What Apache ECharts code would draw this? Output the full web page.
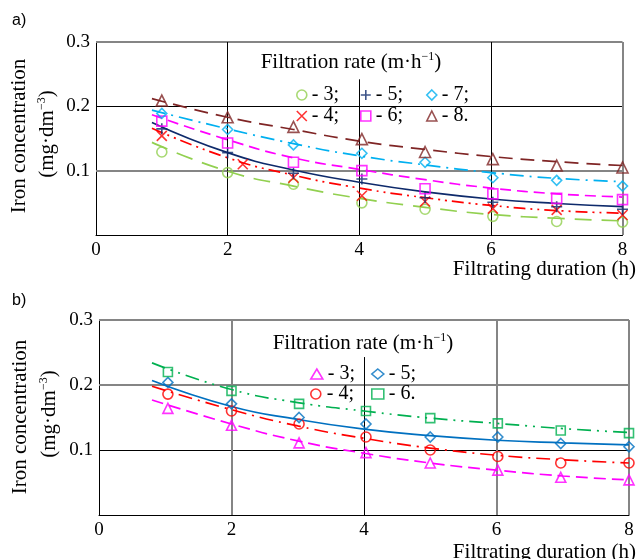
<!DOCTYPE html>
<html>
<head>
<meta charset="utf-8">
<script src="https://cdn.jsdelivr.net/npm/echarts@6/dist/echarts.min.js"></script>
<style>
html,body{margin:0;padding:0;background:#fff;}
#chart{width:637px;height:559px;}
</style>
</head>
<body>
<div id="chart"></div>
<script>
// ---------- DATA ----------
const X_TICKS = [0, 2, 4, 6, 8];
const Y_TICKS = [0.1, 0.2, 0.3];

// Chart a) measured points
const A_PT_X = [1, 2, 3, 4.04, 5, 6.03, 7, 8];
const A_PT_X_R4 = [1, 2.23, 3, 4.04, 5, 6.03, 7, 8];
const A3_PTS = [0.129, 0.097, 0.079, 0.050, 0.040, 0.029, 0.021, 0.020];
const A4_PTS = [0.154, 0.110, 0.089, 0.061, 0.052, 0.041, 0.039, 0.031];
const A5_PTS = [0.165, 0.128, 0.096, 0.087, 0.058, 0.051, 0.044, 0.040];
const A6_PTS = [0.177, 0.143, 0.113, 0.100, 0.072, 0.064, 0.057, 0.055];
const A7_PTS = [0.189, 0.164, 0.140, 0.127, 0.113, 0.089, 0.085, 0.076];
const A8_PTS = [0.209, 0.183, 0.168, 0.149, 0.129, 0.118, 0.108, 0.105];

// Chart a) fitted curves (read from picture)
const A_CURVE_X = [0.85, 2, 3, 4, 5, 6, 7, 8];
const A3_CURVE = [0.144, 0.099, 0.076, 0.057, 0.043, 0.032, 0.026, 0.022];
const A4_CURVE = [0.166, 0.120, 0.093, 0.073, 0.058, 0.046, 0.038, 0.034];
const A5_CURVE = [0.175, 0.128, 0.101, 0.082, 0.067, 0.056, 0.049, 0.044];
const A6_CURVE = [0.187, 0.148, 0.120, 0.102, 0.086, 0.073, 0.064, 0.059];
const A7_CURVE = [0.194, 0.165, 0.142, 0.123, 0.109, 0.097, 0.088, 0.083];
const A8_CURVE = [0.212, 0.183, 0.164, 0.146, 0.133, 0.122, 0.114, 0.108];

// Chart b) measured points
const B_PT_X = [1.04, 2, 3.02, 4.03, 5, 6.02, 6.97, 8];
const B3_PTS = [0.164, 0.138, 0.111, 0.096, 0.080, 0.069, 0.058, 0.054];
const B4_PTS = [0.186, 0.160, 0.140, 0.120, 0.100, 0.090, 0.080, 0.080];
const B5_PTS = [0.204, 0.171, 0.150, 0.140, 0.120, 0.120, 0.110, 0.105];
const B6_PTS = [0.220, 0.191, 0.171, 0.160, 0.149, 0.141, 0.130, 0.126];

// Chart b) fitted curves
const B_CURVE_X = [0.8, 2, 3, 4, 5, 6, 7, 8];
const B3_CURVE = [0.177, 0.140, 0.114, 0.095, 0.080, 0.069, 0.060, 0.054];
const B4_CURVE = [0.198, 0.162, 0.137, 0.118, 0.103, 0.092, 0.085, 0.080];
const B5_CURVE = [0.207, 0.167, 0.147, 0.132, 0.122, 0.115, 0.111, 0.108];
const B6_CURVE = [0.234, 0.193, 0.173, 0.160, 0.149, 0.141, 0.133, 0.127];

const A_RATES = ['3', '4', '5', '6', '7', '8'];
const B_RATES = ['3', '4', '5', '6'];
const X_NAME = 'Filtrating duration (h)';
const Y_NAME_1 = 'Iron concentration';
const LEGEND_TITLE = 'Filtration rate';

// ---------- STYLE ----------
const SERIF = 'Liberation Serif';
const GRAY = '#858585';
const PLUS = 'path://M5,0L5,10M0,5L10,5';
const CROSS = 'path://M0,0L10,10M10,0L0,10';

function pairs(xs, ys) { return xs.map((x, i) => [x, ys[i]]); }

const A_SPEC = [
  { key: 'a3', rate: A_RATES[0], color: '#92D050', symbol: 'circle', size: 10, dash: [17, 10], px: A_PT_X, pts: A3_PTS, curve: A3_CURVE, last: false },
  { key: 'a4', rate: A_RATES[1], color: '#FF0000', symbol: CROSS, size: 10, dash: [12, 5, 2, 5, 2, 5], px: A_PT_X_R4, pts: A4_PTS, curve: A4_CURVE, last: false },
  { key: 'a5', rate: A_RATES[2], color: '#0E2A6B', symbol: PLUS, size: 11, dash: 'solid', px: A_PT_X, pts: A5_PTS, curve: A5_CURVE, last: false },
  { key: 'a6', rate: A_RATES[3], color: '#FF00FF', symbol: 'rect', size: 10, dash: [11, 6], px: A_PT_X, pts: A6_PTS, curve: A6_CURVE, last: false },
  { key: 'a7', rate: A_RATES[4], color: '#00B0F0', symbol: 'diamond', size: 10, dash: [14, 6, 2, 6], px: A_PT_X, pts: A7_PTS, curve: A7_CURVE, last: false },
  { key: 'a8', rate: A_RATES[5], color: '#7F2525', symbol: 'triangle', size: 11, dash: [14, 8], px: A_PT_X, pts: A8_PTS, curve: A8_CURVE, last: true }
];
const B_SPEC = [
  { key: 'b3', rate: B_RATES[0], color: '#FF00FF', symbol: 'triangle', size: 10, dash: [12, 6], px: B_PT_X, pts: B3_PTS, curve: B3_CURVE, last: false },
  { key: 'b4', rate: B_RATES[1], color: '#FF0000', symbol: 'circle', size: 10, dash: [14, 6, 2, 6], px: B_PT_X, pts: B4_PTS, curve: B4_CURVE, last: false },
  { key: 'b5', rate: B_RATES[2], color: '#0070C0', symbol: 'diamond', size: 10, dash: 'solid', px: B_PT_X, pts: B5_PTS, curve: B5_CURVE, last: false },
  { key: 'b6', rate: B_RATES[3], color: '#00B050', symbol: 'rect', size: 9, dash: [14, 6, 2, 6, 2, 6], px: B_PT_X, pts: B6_PTS, curve: B6_CURVE, last: true }
];

const LABELS = {};
[...A_SPEC, ...B_SPEC].forEach(s => { LABELS[s.key] = '- ' + s.rate + (s.last ? '.' : ';'); });

function gl(x1, y1, x2, y2, color, width) {
  const ls = { color: color, width: width, type: 'solid' };
  return [{ coord: [x1, y1], lineStyle: ls }, { coord: [x2, y2], lineStyle: ls }];
}

const series = [];
function addGridSeries(idx, lines) {
  series.push({
    type: 'line', xAxisIndex: idx, yAxisIndex: idx, data: [[0, 0]], symbol: 'none',
    lineStyle: { opacity: 0 }, silent: true, z: 1,
    markLine: { silent: true, symbol: ['none', 'none'], label: { show: false }, animation: false, data: lines, z: 1 }
  });
}
addGridSeries(0, [
  gl(0, 0.1, 8, 0.1, GRAY, 2),
  gl(0, 0.2, 8, 0.2, '#000', 1),
  gl(0, 0.3, 8, 0.3, GRAY, 2),
  gl(2, 0, 2, 0.3, '#000', 1),
  gl(4, 0, 4, 0.242, '#000', 1),
  gl(6, 0, 6, 0.3, '#000', 1),
  gl(8, 0, 8, 0.3, GRAY, 2)
]);
addGridSeries(1, [
  gl(0, 0.1, 8, 0.1, '#000', 1),
  gl(0, 0.2, 8, 0.2, GRAY, 2),
  gl(0, 0.3, 8, 0.3, GRAY, 2),
  gl(2, 0, 2, 0.3, GRAY, 2),
  gl(4, 0, 4, 0.243, '#000', 1),
  gl(6, 0, 6, 0.3, GRAY, 2),
  gl(8, 0, 8, 0.3, GRAY, 2)
]);

function addSpec(specs, idx, curveX) {
  specs.forEach(s => {
    series.push({
      name: s.key + 'c', type: 'line', xAxisIndex: idx, yAxisIndex: idx,
      data: pairs(curveX, s.curve), smooth: 0.5, showSymbol: false, symbol: 'none',
      lineStyle: { color: s.color, width: 1.7, type: s.dash }, z: 3, silent: true
    });
    series.push({
      name: s.key, type: 'scatter', xAxisIndex: idx, yAxisIndex: idx,
      data: pairs(s.px, s.pts), symbol: s.symbol, symbolSize: s.size,
      itemStyle: { color: 'rgba(0,0,0,0)', borderColor: s.color, borderWidth: 1.6 }, z: 4, silent: true
    });
  });
}
addSpec(A_SPEC, 0, A_CURVE_X);
addSpec(B_SPEC, 1, B_CURVE_X);

function legendFor(s, left, top, iw) {
  return {
    left: left, top: top, padding: 0, orient: 'horizontal', selectedMode: false,
    itemWidth: iw, itemHeight: 10,
    data: [{ name: s.key, icon: s.symbol, itemStyle: { color: 'rgba(0,0,0,0)', borderColor: s.color, borderWidth: 1.6 } }],
    formatter: n => LABELS[n],
    textStyle: { fontFamily: SERIF, fontSize: 20, color: '#000', lineHeight: 20 }
  };
}
const legends = [
  legendFor(A_SPEC[0], 296, 85, 10), legendFor(A_SPEC[1], 296, 106, 10),
  legendFor(A_SPEC[2], 360, 85, 10), legendFor(A_SPEC[3], 360, 106, 10),
  legendFor(A_SPEC[4], 426, 85, 10), legendFor(A_SPEC[5], 426, 106, 10),
  legendFor(B_SPEC[0], 310, 364, 12), legendFor(B_SPEC[1], 310, 384, 12),
  legendFor(B_SPEC[2], 371, 364, 12), legendFor(B_SPEC[3], 371, 384, 12)
];

function xAx(idx) {
  return {
    gridIndex: idx, type: 'value', min: X_TICKS[0], max: X_TICKS[X_TICKS.length - 1], interval: X_TICKS[1] - X_TICKS[0],
    axisLine: { show: true, lineStyle: { color: '#000', width: 1 } }, axisTick: { show: false }, splitLine: { show: false },
    axisLabel: { fontFamily: SERIF, fontSize: 19, color: '#000', margin: 6 }
  };
}
function yAx(idx) {
  return {
    gridIndex: idx, type: 'value', min: 0, max: Y_TICKS[Y_TICKS.length - 1], interval: Y_TICKS[0],
    axisLine: { show: true, lineStyle: { color: '#000', width: 1 } }, axisTick: { show: false }, splitLine: { show: false },
    axisLabel: { fontFamily: SERIF, fontSize: 19, color: '#000', margin: 6, formatter: v => (v === 0 ? '' : v.toFixed(1)) }
  };
}

const richSup = {
  n: { fontFamily: SERIF, fontSize: 21, fill: '#000', color: '#000', verticalAlign: 'bottom', lineHeight: 22 },
  s: { fontFamily: SERIF, fontSize: 12, fill: '#000', color: '#000', verticalAlign: 'top', lineHeight: 22 }
};
function txt(x, y, text, opts) {
  return Object.assign({ type: 'text', x: x, y: y, silent: true, z: 10,
    style: Object.assign({ text: text, fontFamily: SERIF, fontSize: 21, fill: '#000', align: 'center', verticalAlign: 'middle' }, opts || {}) });
}
const graphics = [
  txt(12, 21, 'a)', { fontFamily: 'Liberation Sans', fontSize: 16, align: 'left' }),
  txt(12, 301, 'b)', { fontFamily: 'Liberation Sans', fontSize: 16, align: 'left' }),
  Object.assign(txt(19, 136, Y_NAME_1), { rotation: Math.PI / 2 }),
  Object.assign(txt(47, 134, '{n|(mg·dm}{s|−3}{n|)}', { rich: richSup }), { rotation: Math.PI / 2 }),
  Object.assign(txt(20, 417, Y_NAME_1), { rotation: Math.PI / 2 }),
  Object.assign(txt(49, 414, '{n|(mg·dm}{s|−3}{n|)}', { rich: richSup }), { rotation: Math.PI / 2 }),
  txt(351, 62, '{n|' + LEGEND_TITLE + ' (m·h}{s|−1}{n|)}', { rich: richSup }),
  txt(363, 343, '{n|' + LEGEND_TITLE + ' (m·h}{s|−1}{n|)}', { rich: richSup }),
  txt(636, 269, X_NAME, { align: 'right' }),
  txt(636, 552, X_NAME, { align: 'right' })
];

const option = {
  animation: false,
  backgroundColor: '#fff',
  grid: [
    { left: 96, top: 42, right: 14.5, height: 193 },
    { left: 99, top: 320, right: 8, height: 195 }
  ],
  xAxis: [xAx(0), xAx(1)],
  yAxis: [yAx(0), yAx(1)],
  legend: legends,
  graphic: graphics,
  series: series
};

const chart = echarts.init(document.getElementById('chart'), null, { renderer: 'canvas' });
chart.setOption(option);
</script>
</body>
</html>
